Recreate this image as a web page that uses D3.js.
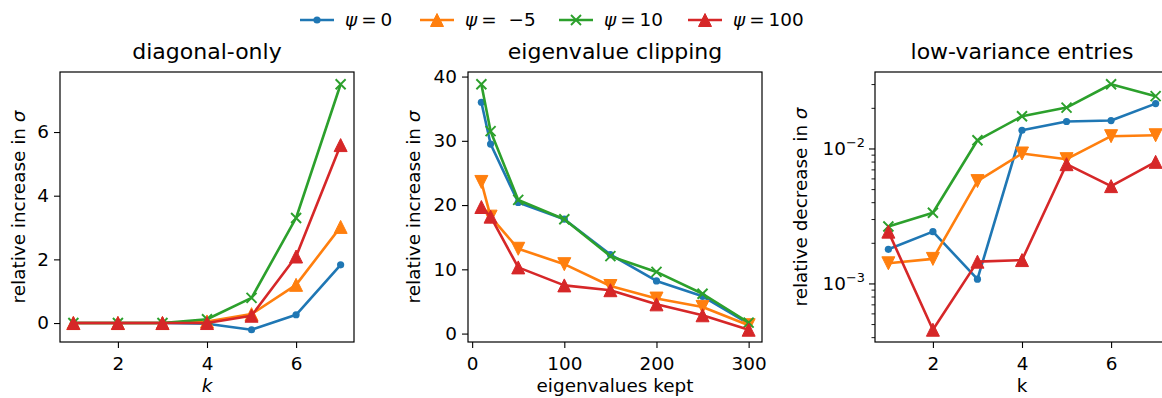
<!DOCTYPE html>
<html><head><meta charset="utf-8">
<script src="https://cdn.jsdelivr.net/npm/d3@7"></script>
<style>
body{margin:0;background:#fff}
svg{display:block;font-family:"DejaVu Sans",sans-serif}
</style></head><body>
<svg id="fig" width="1162" height="398"></svg>
<script>
// ---------- data ----------
const kValues = [1, 2, 3, 4, 5, 6, 7];
const keptValues = [10, 20, 50, 100, 150, 200, 250, 300];

const psiLabels = ["0", "−5", "10", "100"];
const seriesColors = ["#1f77b4", "#ff7f0e", "#2ca02c", "#d62728"];

// diagonal-only: relative increase in sigma vs k
const diagPsi0   = [0, 0, 0, -0.02, -0.21, 0.26, 1.83];
const diagPsiM5  = [0, 0, 0, 0.05, 0.28, 1.2, 3.02];
const diagPsi10  = [0, 0, 0, 0.12, 0.79, 3.3, 7.5];
const diagPsi100 = [0, 0, 0, 0, 0.23, 2.09, 5.59];

// eigenvalue clipping: relative increase in sigma vs eigenvalues kept
const clipPsi0   = [36.0, 29.5, 20.4, 17.8, 12.3, 8.2, 5.8, 1.55];
const clipPsiM5  = [23.6, 18.2, 13.2, 10.8, 7.4, 5.45, 4.15, 1.3];
const clipPsi10  = [38.8, 31.5, 20.8, 17.8, 12.05, 9.6, 6.2, 1.7];
const clipPsi100 = [19.7, 18.2, 10.3, 7.5, 6.75, 4.55, 2.85, 0.6];

// low-variance entries: relative decrease in sigma vs k (log scale)
const lowPsi0   = [1.79e-3, 2.42e-3, 1.076e-3, 0.01365, 0.01585, 0.0161, 0.0215];
const lowPsiM5  = [1.41e-3, 1.52e-3, 5.73e-3, 9.18e-3, 8.33e-3, 0.01233, 0.01253];
const lowPsi10  = [2.64e-3, 3.34e-3, 0.0115, 0.01734, 0.0201, 0.0299, 0.0244];
const lowPsi100 = [2.42e-3, 4.54e-4, 1.45e-3, 1.49e-3, 7.65e-3, 5.26e-3, 7.96e-3];

// tick labels
const diagTicksX = [2, 4, 6];
const diagTicksY = [0, 2, 4, 6];
const clipTicksX = [0, 100, 200, 300];
const clipTicksY = [0, 10, 20, 30, 40];
const lowTicksX  = [2, 4, 6];
const lowTicksY  = [1e-3, 1e-2];

// ---------- layout ----------
const svg = d3.select("#fig");
const W = 294, TOP = 72, BOTTOM = 342;
const FS = 18.4;

const markerPaths = {
  up:   "M0,-6.5L6.5,6.5L-6.5,6.5Z",
  down: "M0,6.5L6.5,-6.5L-6.5,-6.5Z",
  x:    "M-5,-5L5,5M-5,5L5,-5"
};

function drawMarker(g, kind, color, cx, cy) {
  if (kind === "dot") {
    g.append("circle").attr("cx", cx).attr("cy", cy).attr("r", 3.6).attr("fill", color);
  } else if (kind === "x") {
    g.append("path").attr("d", markerPaths.x).attr("transform", `translate(${cx},${cy})`)
      .attr("stroke", color).attr("stroke-width", 1.9).attr("fill", "none");
  } else {
    g.append("path").attr("d", markerPaths[kind]).attr("transform", `translate(${cx},${cy})`)
      .attr("fill", color).attr("stroke", color).attr("stroke-width", 1).attr("stroke-linejoin", "miter");
  }
}

// 5% margin on each side, in log space for log axes
function padDomain(vals, log) {
  const lo = d3.min(vals), hi = d3.max(vals);
  if (log) {
    const a = Math.log10(lo), b = Math.log10(hi), m = (b - a) * 0.05;
    return [Math.pow(10, a - m), Math.pow(10, b + m)];
  }
  const m = (hi - lo) * 0.05;
  return [lo - m, hi + m];
}

function styleAxis(sel) {
  sel.select(".domain").remove();
  sel.selectAll(".tick line").attr("stroke", "#000").attr("stroke-width", 1.1);
  sel.selectAll(".tick text").attr("fill", "#000").attr("font-size", FS)
    .attr("font-family", "DejaVu Sans");
}

function panel(cfg) {
  const g = svg.append("g");
  const x0 = cfg.left, x1 = cfg.left + W;
  const allY = cfg.series.flat();
  const x = d3.scaleLinear().domain(padDomain(cfg.xs, false)).range([x0, x1]);
  const y = (cfg.log ? d3.scaleLog() : d3.scaleLinear())
    .domain(padDomain(allY, cfg.log)).range([BOTTOM, TOP]);

  // x axis
  const gx = g.append("g").attr("transform", `translate(0,${BOTTOM})`)
    .call(d3.axisBottom(x).tickValues(cfg.ticksX).tickSize(6).tickPadding(8.5).tickFormat(d3.format("d")));
  styleAxis(gx);

  // y axis
  if (cfg.log) {
    const [lo, hi] = y.domain();
    const minor = [];
    for (let e = Math.floor(Math.log10(lo)); e <= Math.ceil(Math.log10(hi)); e++)
      for (let m = 2; m <= 9; m++) {
        const v = m * Math.pow(10, e);
        if (v >= lo && v <= hi) minor.push(v);
      }
    const gm = g.append("g").attr("transform", `translate(${x0},0)`)
      .call(d3.axisLeft(y).tickValues(minor).tickSize(3.5).tickFormat(""));
    styleAxis(gm);
    gm.selectAll(".tick line").attr("stroke-width", 0.9);
    const gy = g.append("g").attr("transform", `translate(${x0},0)`)
      .call(d3.axisLeft(y).tickValues(cfg.ticksY).tickSize(6).tickPadding(4).tickFormat(""));
    styleAxis(gy);
    gy.selectAll(".tick text").each(function (d) {
      const t = d3.select(this).text("");
      t.append("tspan").text("10");
      t.append("tspan").attr("font-size", FS * 0.7).attr("dy", -8)
        .text("−" + Math.abs(Math.round(Math.log10(d))));
    });
  } else {
    const gy = g.append("g").attr("transform", `translate(${x0},0)`)
      .call(d3.axisLeft(y).tickValues(cfg.ticksY).tickSize(6).tickPadding(5).tickFormat(d3.format("d")));
    styleAxis(gy);
  }

  // series: lines with markers, drawn in legend order
  const line = d3.line().x((d, i) => x(cfg.xs[i])).y(d => y(d));
  cfg.series.forEach((vals, i) => {
    g.append("path").datum(vals).attr("d", line)
      .attr("fill", "none").attr("stroke", seriesColors[i])
      .attr("stroke-width", 2.6).attr("stroke-linejoin", "round").attr("stroke-linecap", "butt");
    const mg = g.append("g");
    vals.forEach((v, j) => drawMarker(mg, cfg.markers[i], seriesColors[i], x(cfg.xs[j]), y(v)));
  });

  // frame
  g.append("rect").attr("x", x0).attr("y", TOP).attr("width", W).attr("height", BOTTOM - TOP)
    .attr("fill", "none").attr("stroke", "#000").attr("stroke-width", 1.2);

  // title
  g.append("text").attr("x", (x0 + x1) / 2).attr("y", 59).attr("text-anchor", "middle")
    .attr("font-size", 22).attr("fill", "#000").text(cfg.title);

  // x label
  g.append("text").attr("x", (x0 + x1) / 2).attr("y", 392).attr("text-anchor", "middle")
    .attr("font-size", FS).attr("fill", "#000")
    .attr("font-style", cfg.xItalic ? "italic" : "normal").text(cfg.xLabel);

  // y label with italic sigma
  const yl = g.append("text").attr("transform", `translate(${cfg.yLabelX},${(TOP + BOTTOM) / 2}) rotate(-90)`)
    .attr("text-anchor", "middle").attr("font-size", FS).attr("fill", "#000");
  yl.append("tspan").text(cfg.yLabel + " ");
  yl.append("tspan").attr("font-style", "italic").text("σ");
}

panel({
  left: 60, xs: kValues, series: [diagPsi0, diagPsiM5, diagPsi10, diagPsi100],
  markers: ["dot", "up", "x", "up"], ticksX: diagTicksX, ticksY: diagTicksY,
  title: "diagonal-only", xLabel: "k", xItalic: true,
  yLabel: "relative increase in", yLabelX: 25
});
panel({
  left: 468, xs: keptValues, series: [clipPsi0, clipPsiM5, clipPsi10, clipPsi100],
  markers: ["dot", "down", "x", "up"], ticksX: clipTicksX, ticksY: clipTicksY,
  title: "eigenvalue clipping", xLabel: "eigenvalues kept", xItalic: false,
  yLabel: "relative increase in", yLabelX: 420
});
panel({
  left: 875, xs: kValues, series: [lowPsi0, lowPsiM5, lowPsi10, lowPsi100], log: true,
  markers: ["dot", "down", "x", "up"], ticksX: lowTicksX, ticksY: lowTicksY,
  title: "low-variance entries", xLabel: "k", xItalic: false,
  yLabel: "relative decrease in", yLabelX: 807
});

// ---------- legend ----------
const legendX = [300, 420, 559, 688];
const legendMarkers = ["dot", "up", "x", "up"];
const lg = svg.append("g");
legendX.forEach((lx, i) => {
  lg.append("line").attr("x1", lx).attr("x2", lx + 34).attr("y1", 20).attr("y2", 20)
    .attr("stroke", seriesColors[i]).attr("stroke-width", 2.6);
  drawMarker(lg, legendMarkers[i], seriesColors[i], lx + 17, 20);
  const t = lg.append("text").attr("x", lx + 45).attr("y", 26).attr("font-size", FS).attr("fill", "#000");
  t.append("tspan").attr("font-style", "italic").text("ψ");
  t.append("tspan").attr("dx", 4).text("=");
  t.append("tspan").attr("dx", psiLabels[i].startsWith("−") ? 12 : 4).text(psiLabels[i]);
});
</script>
</body></html>
